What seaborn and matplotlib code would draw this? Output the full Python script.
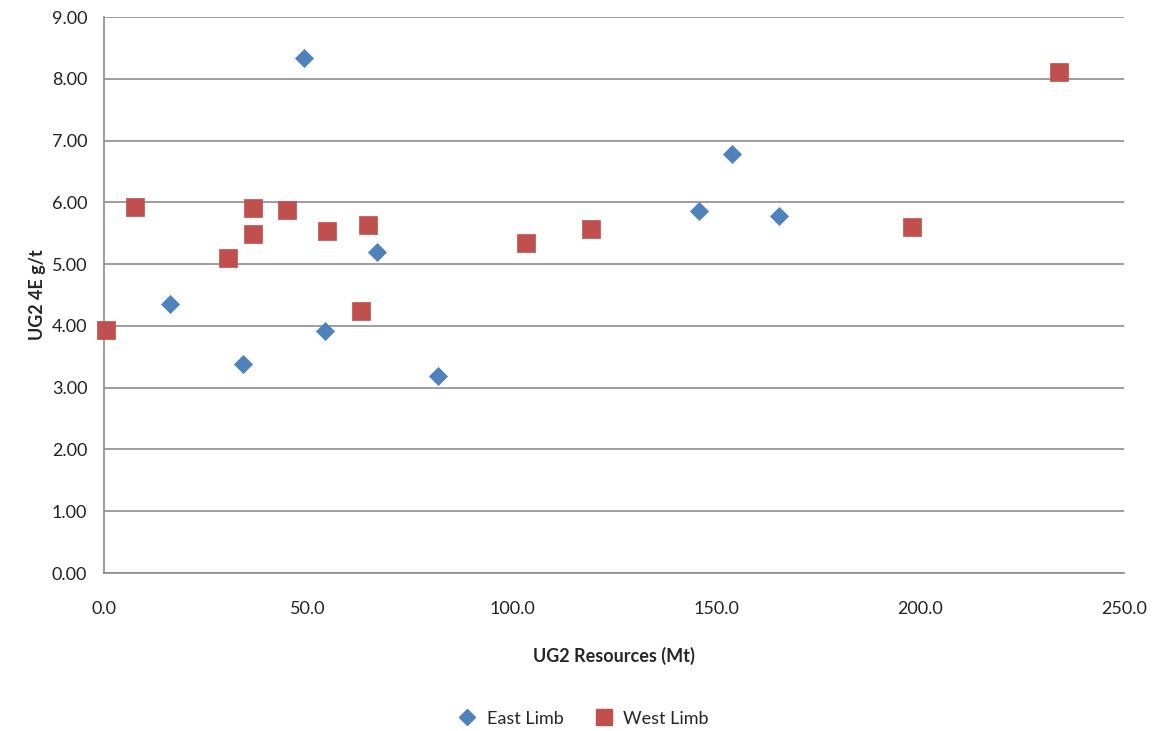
import matplotlib
matplotlib.use("Agg")
import matplotlib.pyplot as plt
import seaborn as sns
import pandas as pd
from matplotlib.lines import Line2D

east_x = [16.2, 34.1, 49.0, 54.2, 66.9, 81.9, 145.8, 153.9, 165.4]
east_y = [4.35, 3.38, 8.33, 3.92, 5.20, 3.19, 5.86, 6.79, 5.78]
west_x = [0.5, 7.6, 30.4, 36.5, 36.5, 44.9, 54.7, 63.0, 64.7, 103.4, 119.4, 198.0, 234.1]
west_y = [3.93, 5.92, 5.10, 5.91, 5.49, 5.87, 5.54, 4.24, 5.63, 5.35, 5.57, 5.60, 8.11]
series = ["East Limb", "West Limb"]
colors = ["#4F81BD", "#C0504D"]

east = pd.DataFrame({"x": east_x, "y": east_y})
west = pd.DataFrame({"x": west_x, "y": west_y})

sns.set_theme(style="white")
plt.rcParams["font.family"] = ["Lato", "DejaVu Sans"]

fig = plt.figure(figsize=(11.58, 7.31), dpi=100)
ax = fig.add_axes([0.0898, 0.2161, 0.8808, 0.7606])

sns.scatterplot(data=east, x="x", y="y", marker="D", color=colors[0], s=85,
                edgecolor=colors[0], linewidth=0.5, ax=ax, zorder=3, clip_on=False)
sns.scatterplot(data=west, x="x", y="y", marker="s", color=colors[1], s=175,
                edgecolor=colors[1], linewidth=0.5, ax=ax, zorder=3, clip_on=False)

ax.set_xlim(0, 250)
ax.set_ylim(0, 9)
ax.set_xticks([0, 50, 100, 150, 200, 250])
ax.set_xticklabels([f"{v:.1f}" for v in [0, 50, 100, 150, 200, 250]])
ax.set_yticks(range(10))
ax.set_yticklabels([f"{v:.2f}" for v in range(10)])
ax.yaxis.grid(True, color="#8C8C8C", linewidth=1.2)
ax.xaxis.grid(False)
ax.set_axisbelow(True)
for sp in ["top", "right"]:
    ax.spines[sp].set_visible(False)
for sp in ["left", "bottom"]:
    ax.spines[sp].set_color("#8C8C8C")
    ax.spines[sp].set_linewidth(1.2)
ax.tick_params(axis="both", which="major", direction="out", length=6,
               color="#8C8C8C", width=1.2, labelsize=13, labelcolor="#222222")
ax.tick_params(axis="x", pad=14)
ax.tick_params(axis="y", pad=6)

ax.set_xlabel("UG2 Resources (Mt)", fontsize=13, fontweight="bold", labelpad=22)
ax.set_ylabel("UG2 4E g/t", fontsize=13, fontweight="bold", labelpad=4)

handles = [
    Line2D([], [], marker="D", linestyle="none", color=colors[0], markersize=8),
    Line2D([], [], marker="s", linestyle="none", color=colors[1], markersize=11),
]
fig.legend(handles, series, loc="center", bbox_to_anchor=(0.5, 0.017),
           ncol=2, frameon=False, fontsize=13, handletextpad=0.1,
           columnspacing=1.2, borderaxespad=0)

fig.savefig("out.png", dpi=100)
